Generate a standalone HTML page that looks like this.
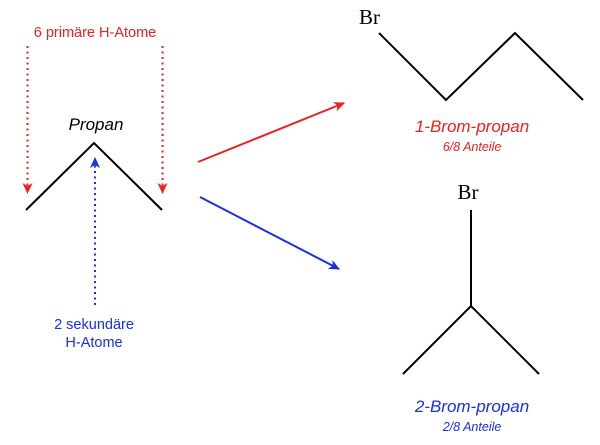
<!DOCTYPE html>
<html><head><meta charset="utf-8"><style>html,body{margin:0;padding:0;background:#fff;}</style></head>
<body>
<svg width="600" height="440" xmlns="http://www.w3.org/2000/svg" font-family="Liberation Sans, sans-serif">
<defs>
<marker id="ar" markerWidth="11" markerHeight="10" refX="10" refY="5" orient="auto" markerUnits="userSpaceOnUse"><path d="M0,0 L11,5 L0,10 L3,5 z" fill="#f02020"/></marker>
<marker id="ab" markerWidth="11" markerHeight="10" refX="10" refY="5" orient="auto" markerUnits="userSpaceOnUse"><path d="M0,0 L11,5 L0,10 L3,5 z" fill="#1a2ef0"/></marker>
</defs>
<text x="95" y="37" font-size="14.5" fill="#f02020" text-anchor="middle">6 primäre H-Atome</text>
<line x1="27.5" y1="46" x2="27.5" y2="193" stroke="#f02020" stroke-width="2" stroke-dasharray="2,3.5" marker-end="url(#ar)"/>
<line x1="162.5" y1="46" x2="162.5" y2="193" stroke="#f02020" stroke-width="2" stroke-dasharray="2,3.5" marker-end="url(#ar)"/>
<text x="96" y="130" font-size="17" font-style="italic" text-anchor="middle">Propan</text>
<polyline points="26,210 94,143 162,210" fill="none" stroke="#000" stroke-width="2"/>
<line x1="95" y1="305" x2="95" y2="158" stroke="#1a2ef0" stroke-width="2" stroke-dasharray="2,3.5" marker-end="url(#ab)"/>
<text x="94" y="329" font-size="14.5" fill="#1a2ef0" text-anchor="middle">2 sekundäre</text>
<text x="94" y="347" font-size="14.5" fill="#1a2ef0" text-anchor="middle">H-Atome</text>
<line x1="198" y1="162" x2="344" y2="103" stroke="#f02020" stroke-width="2" marker-end="url(#ar)"/>
<line x1="200" y1="197" x2="339" y2="269" stroke="#1a2ef0" stroke-width="2" marker-end="url(#ab)"/>
<text x="359" y="24" font-size="21" font-family="Liberation Serif, serif">Br</text>
<polyline points="379,33 446,100 515,33 583,100" fill="none" stroke="#000" stroke-width="2"/>
<text x="472" y="132" font-size="17" font-style="italic" fill="#f02020" text-anchor="middle">1-Brom-propan</text>
<text x="472" y="151" font-size="12.5" font-style="italic" fill="#f02020" text-anchor="middle">6/8 Anteile</text>
<text x="468" y="199" font-size="21" font-family="Liberation Serif, serif" text-anchor="middle">Br</text>
<polyline points="471,210 471,306" fill="none" stroke="#000" stroke-width="2"/>
<polyline points="403,374 471,306 539,374" fill="none" stroke="#000" stroke-width="2"/>
<text x="472" y="412" font-size="17" font-style="italic" fill="#1a2ef0" text-anchor="middle">2-Brom-propan</text>
<text x="472" y="431" font-size="12.5" font-style="italic" fill="#1a2ef0" text-anchor="middle">2/8 Anteile</text>
</svg>
</body></html>
